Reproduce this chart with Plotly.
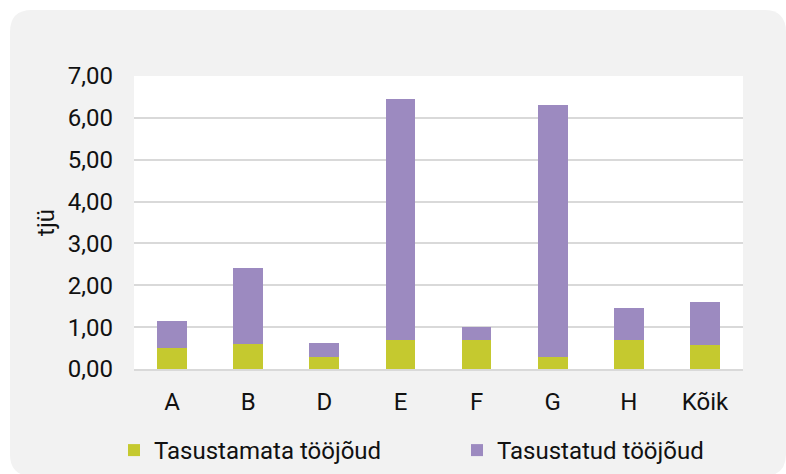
import plotly.graph_objects as go

categories = ["A", "B", "D", "E", "F", "G", "H", "Kõik"]
unpaid = [0.51, 0.60, 0.29, 0.70, 0.69, 0.29, 0.69, 0.58]
paid = [0.64, 1.82, 0.32, 5.75, 0.31, 6.01, 0.77, 1.02]
series_names = ["Tasustamata tööjõud", "Tasustatud tööjõud"]
y_tick_values = [0, 1, 2, 3, 4, 5, 6, 7]

GREEN = "#C5C92F"
PURPLE = "#9C8AC0"
FONT = "Roboto"
FS = 24

W, H = 786, 474
L, R, T, B = 134, 43, 76, 105
PW, PH = W - L - R, H - T - B


def px(xp):
    return (xp - L) / PW


def py(yp):
    return (H - B - yp) / PH


fig = go.Figure()
fig.add_trace(go.Bar(x=categories, y=unpaid, name=series_names[0],
                     marker=dict(color=GREEN, line=dict(width=0))))
fig.add_trace(go.Bar(x=categories, y=paid, name=series_names[1],
                     marker=dict(color=PURPLE, line=dict(width=0))))

# rounded grey card
x0, x1, y0, y1, r = 10, 786, 10, 476, 22
pts = [
    ("M", [(x0 + r, y0)]), ("L", [(x1 - r, y0)]), ("Q", [(x1, y0), (x1, y0 + r)]),
    ("L", [(x1, y1 - r)]), ("Q", [(x1, y1), (x1 - r, y1)]),
    ("L", [(x0 + r, y1)]), ("Q", [(x0, y1), (x0, y1 - r)]),
    ("L", [(x0, y0 + r)]), ("Q", [(x0, y0), (x0 + r, y0)]),
]
path = ""
for cmd, coords in pts:
    path += cmd + " " + " ".join(f"{px(a):.5f},{py(b):.5f}" for a, b in coords) + " "
path += "Z"

fig.update_layout(
    width=W, height=H,
    margin=dict(l=L, r=R, t=T, b=B, pad=0, autoexpand=False),
    paper_bgcolor="white",
    plot_bgcolor="white",
    barmode="stack",
    bargap=0.61,
    separators=",.",
    font=dict(family=FONT, size=FS, color="#111111"),
    shapes=[
        dict(type="path", xref="paper", yref="paper", path=path,
             fillcolor="#F2F2F2", line=dict(width=0), layer="below"),
        dict(type="rect", xref="paper", yref="paper", x0=0, x1=1, y0=0, y1=1,
             fillcolor="white", line=dict(width=0), layer="below"),
    ],
    xaxis=dict(
        showgrid=False, showline=True, linecolor="#D9D9D9", linewidth=2,
        ticks="", ticklabelstandoff=10, automargin=False,
        tickfont=dict(family=FONT, size=FS, color="#111111"),
    ),
    yaxis=dict(
        range=[0, 7], tickvals=y_tick_values, tickformat=".2f", automargin=False,
        showgrid=True, gridcolor="#D9D9D9", gridwidth=1.5,
        zeroline=False, showline=False, ticks="", ticklabelstandoff=20,
        tickfont=dict(family=FONT, size=FS, color="#111111"),
        title=dict(text="tjü", standoff=6, font=dict(family=FONT, size=FS, color="#111111")),
    ),
    legend=dict(
        orientation="h", x=px(114), xanchor="left", y=py(428), yanchor="top",
        bgcolor="rgba(0,0,0,0)", entrywidth=298,
        font=dict(family=FONT, size=FS, color="#111111"),
        traceorder="normal",
    ),
    showlegend=True,
)

fig.write_html("out.html", config={"displayModeBar": False},
               post_script="document.body.style.margin='0';document.body.style.overflow='hidden';")
